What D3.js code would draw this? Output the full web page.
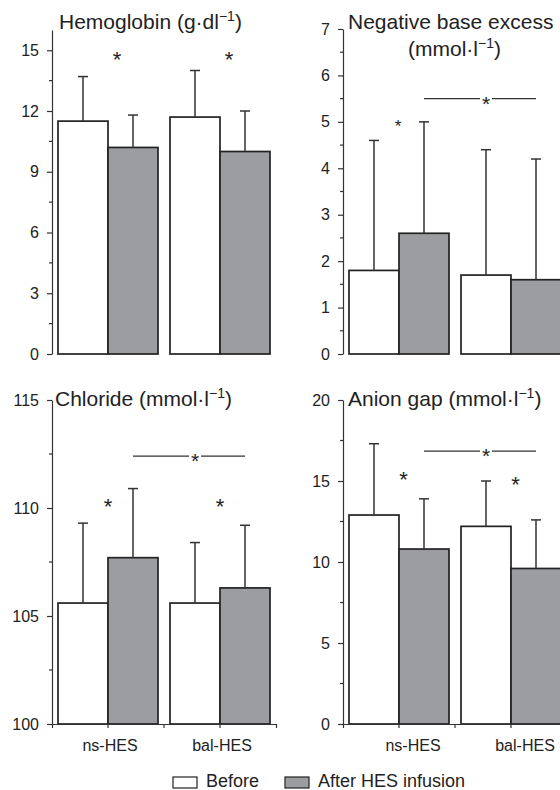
<!DOCTYPE html>
<html>
<head>
<meta charset="utf-8">
<script src="https://cdn.jsdelivr.net/npm/d3@7"></script>
<style>
  body { margin: 0; background: #fff; }
  svg { display: block; font-family: "Liberation Sans", Arial, sans-serif; }
</style>
</head>
<body>
<div id="chart"></div>
<script>
// groups and phases
const groups = ["ns-HES", "bal-HES"];
const phases = ["Before", "After HES infusion"];

// Hemoglobin (g/dl)
const hbBefore = [11.5, 11.7];
const hbAfter = [10.2, 10.0];
const hbBeforeSD = [2.2, 2.3];
const hbAfterSD = [1.6, 2.0];
const hbStars = [14.8, 14.8];
const hbTicks = [0, 3, 6, 9, 12, 15];
const hbMinor = [1.5, 4.5, 7.5, 10.5, 13.5];

// Negative base excess (mmol/l)
const beBefore = [1.8, 1.7];
const beAfter = [2.6, 1.6];
const beBeforeSD = [2.8, 2.7];
const beAfterSD = [2.4, 2.6];
const beStars = [5.0, null];
const beSig = 5.5;
const beTicks = [0, 1, 2, 3, 4, 5, 6, 7];
const beMinor = [0.5, 1.5, 2.5, 3.5, 4.5, 5.5, 6.5];

// Chloride (mmol/l)
const clBefore = [105.6, 105.6];
const clAfter = [107.7, 106.3];
const clBeforeSD = [3.7, 2.8];
const clAfterSD = [3.2, 2.9];
const clStars = [110.3, 110.3];
const clSig = 112.4;
const clTicks = [100, 105, 110, 115];
const clMinor = [102.5, 107.5, 112.5];

// Anion gap (mmol/l)
const agBefore = [12.9, 12.2];
const agAfter = [10.8, 9.6];
const agBeforeSD = [4.4, 2.8];
const agAfterSD = [3.1, 3.0];
const agStars = [15.4, 15.1];
const agSig = 16.85;
const agTicks = [0, 5, 10, 15, 20];
const agMinor = [2.5, 7.5, 12.5, 17.5];

const width = 560, height = 790;
const fillColor = { "Before": "#ffffff", "After HES infusion": "#9c9da1" };
const ink = "#222";

const svg = d3.select("#chart").append("svg")
  .attr("width", width)
  .attr("height", height);

const panels = [
  { title: [["Hemoglobin (g·dl", "−1", ")"]], titleX: 59, titleY: 29,
    before: hbBefore, after: hbAfter, beforeSD: hbBeforeSD, afterSD: hbAfterSD,
    domain: [0, 16], ticks: hbTicks, minor: hbMinor, ax: 52, yRange: [354, 30],
    xAxis: false, stars: hbStars, starDx: 9, starSize: 22, sig: null },
  { title: [["Negative base excess", "", ""], ["(mmol·l", "−1", ")"]], titleX: 348, titleY: 29, title2X: 408,
    before: beBefore, after: beAfter, beforeSD: beBeforeSD, afterSD: beAfterSD,
    domain: [0, 7], ticks: beTicks, minor: beMinor, ax: 343, yRange: [354, 29],
    xAxis: false, stars: beStars, starDx: -1, starSize: 17, sig: beSig },
  { title: [["Chloride (mmol·l", "−1", ")"]], titleX: 55, titleY: 406,
    before: clBefore, after: clAfter, beforeSD: clBeforeSD, afterSD: clAfterSD,
    domain: [100, 115], ticks: clTicks, minor: clMinor, ax: 52, yRange: [724, 400],
    xAxis: true, labelDx: 2, stars: clStars, starDx: 0, starSize: 22, sig: clSig },
  { title: [["Anion gap (mmol·l", "−1", ")"]], titleX: 348, titleY: 406,
    before: agBefore, after: agAfter, beforeSD: agBeforeSD, afterSD: agAfterSD,
    domain: [0, 20], ticks: agTicks, minor: agMinor, ax: 343, yRange: [724, 400],
    xAxis: true, labelDx: 14, stars: agStars, starDx: 4.5, starSize: 22, sig: agSig }
];

panels.forEach(function(p) {
  const g = svg.append("g");

  // scales
  const x = d3.scaleBand()
    .domain(groups)
    .range([p.ax, p.ax + 224])
    .paddingInner(12 / 112)
    .paddingOuter(6 / 112);
  const xSub = d3.scaleBand()
    .domain(phases)
    .range([0, x.bandwidth()])
    .padding(0);
  const y = d3.scaleLinear()
    .domain(p.domain)
    .range(p.yRange);

  // rows for bars
  const rows = [];
  groups.forEach(function(gr, i) {
    rows.push({ group: gr, phase: phases[0], value: p.before[i], sd: p.beforeSD[i] });
    rows.push({ group: gr, phase: phases[1], value: p.after[i], sd: p.afterSD[i] });
  });

  // bars
  g.selectAll(".bar")
    .data(rows)
    .enter()
    .append("rect")
    .attr("x", d => x(d.group) + xSub(d.phase))
    .attr("y", d => y(d.value))
    .attr("width", xSub.bandwidth())
    .attr("height", d => y(p.domain[0]) - y(d.value))
    .style("fill", d => fillColor[d.phase])
    .style("stroke", ink)
    .style("stroke-width", 1.7);

  // error bars (upper only)
  const eb = g.selectAll(".err")
    .data(rows)
    .enter()
    .append("g")
    .attr("transform", d => "translate(" + (x(d.group) + xSub(d.phase) + xSub.bandwidth() / 2) + ",0)");
  eb.append("line")
    .attr("y1", d => y(d.value))
    .attr("y2", d => y(d.value + d.sd))
    .style("stroke", "#333")
    .style("stroke-width", 1.5);
  eb.append("line")
    .attr("x1", -5).attr("x2", 5)
    .attr("y1", d => y(d.value + d.sd))
    .attr("y2", d => y(d.value + d.sd))
    .style("stroke", "#333")
    .style("stroke-width", 1.5);

  // y axis
  const yAxis = g.append("g")
    .attr("transform", "translate(" + p.ax + ",0)")
    .call(d3.axisLeft(y).tickValues(p.ticks).tickFormat(d3.format("d"))
      .tickSize(5).tickSizeOuter(0).tickPadding(8));
  yAxis.selectAll("text").style("font-size", "16px").style("fill", ink);
  yAxis.selectAll("line, path").style("stroke", "#333").style("stroke-width", 1.2);
  yAxis.selectAll(".minor")
    .data(p.minor)
    .enter()
    .append("line")
    .attr("x1", -3).attr("x2", 0)
    .attr("y1", d => y(d)).attr("y2", d => y(d))
    .style("stroke", "#333")
    .style("stroke-width", 1.2);

  // x axis (bottom panels only)
  if (p.xAxis) {
    const xAxis = g.append("g")
      .attr("transform", "translate(0," + y(p.domain[0]) + ")")
      .call(d3.axisBottom(x).tickSize(4).tickSizeOuter(4).tickPadding(11.5));
    xAxis.selectAll("text").style("font-size", "16px").style("fill", ink).attr("dx", p.labelDx);
    xAxis.selectAll("line, path").style("stroke", "#333").style("stroke-width", 1.2);
    const mid = (x(groups[0]) + x.bandwidth() + x(groups[1])) / 2;
    xAxis.append("line")
      .attr("x1", mid).attr("x2", mid)
      .attr("y1", 0).attr("y2", 4)
      .style("stroke", "#333")
      .style("stroke-width", 1.2);
  }

  // stars over each group
  g.selectAll(".star")
    .data(groups.map((gr, i) => ({ group: gr, v: p.stars[i] })).filter(d => d.v != null))
    .enter()
    .append("text")
    .attr("x", d => x(d.group) + x.bandwidth() / 2 + p.starDx)
    .attr("y", d => y(d.v) + 0.575 * p.starSize)
    .attr("text-anchor", "middle")
    .style("font-size", p.starSize + "px")
    .style("fill", ink)
    .text("*");

  // between-group significance line
  if (p.sig != null) {
    const x1 = x(groups[0]) + xSub(phases[1]) + xSub.bandwidth() / 2;
    const x2 = x(groups[1]) + xSub(phases[1]) + xSub.bandwidth() / 2;
    const sx = (x1 + x2) / 2 + 6;
    const sy = y(p.sig);
    g.append("line")
      .attr("x1", x1).attr("x2", sx - 6)
      .attr("y1", sy).attr("y2", sy)
      .style("stroke", "#333").style("stroke-width", 1.2);
    g.append("line")
      .attr("x1", sx + 6).attr("x2", x2)
      .attr("y1", sy).attr("y2", sy)
      .style("stroke", "#333").style("stroke-width", 1.2);
    g.append("text")
      .attr("x", sx)
      .attr("y", sy + 0.575 * 21)
      .attr("text-anchor", "middle")
      .style("font-size", "21px")
      .style("fill", ink)
      .text("*");
  }

  // title
  p.title.forEach(function(parts, i) {
    const t = g.append("text")
      .attr("x", i === 0 ? p.titleX : p.title2X)
      .attr("y", p.titleY + i * 27)
      .style("font-size", "21px")
      .style("fill", ink);
    t.append("tspan").text(parts[0]);
    if (parts[1]) {
      t.append("tspan").attr("dy", -8).style("font-size", "14px").text(parts[1]);
      t.append("tspan").attr("dy", 8).text(parts[2]);
    }
  });
});

// legend
const legend = svg.append("g");
const legX = [173, 285];
phases.forEach(function(ph, i) {
  legend.append("rect")
    .attr("x", legX[i]).attr("y", 777)
    .attr("width", 24).attr("height", 11)
    .style("fill", fillColor[ph])
    .style("stroke", ink)
    .style("stroke-width", 1.2);
  legend.append("text")
    .attr("x", legX[i] + 33).attr("y", 787)
    .style("font-size", "18px")
    .style("fill", ink)
    .text(ph);
});
</script>
</body>
</html>
